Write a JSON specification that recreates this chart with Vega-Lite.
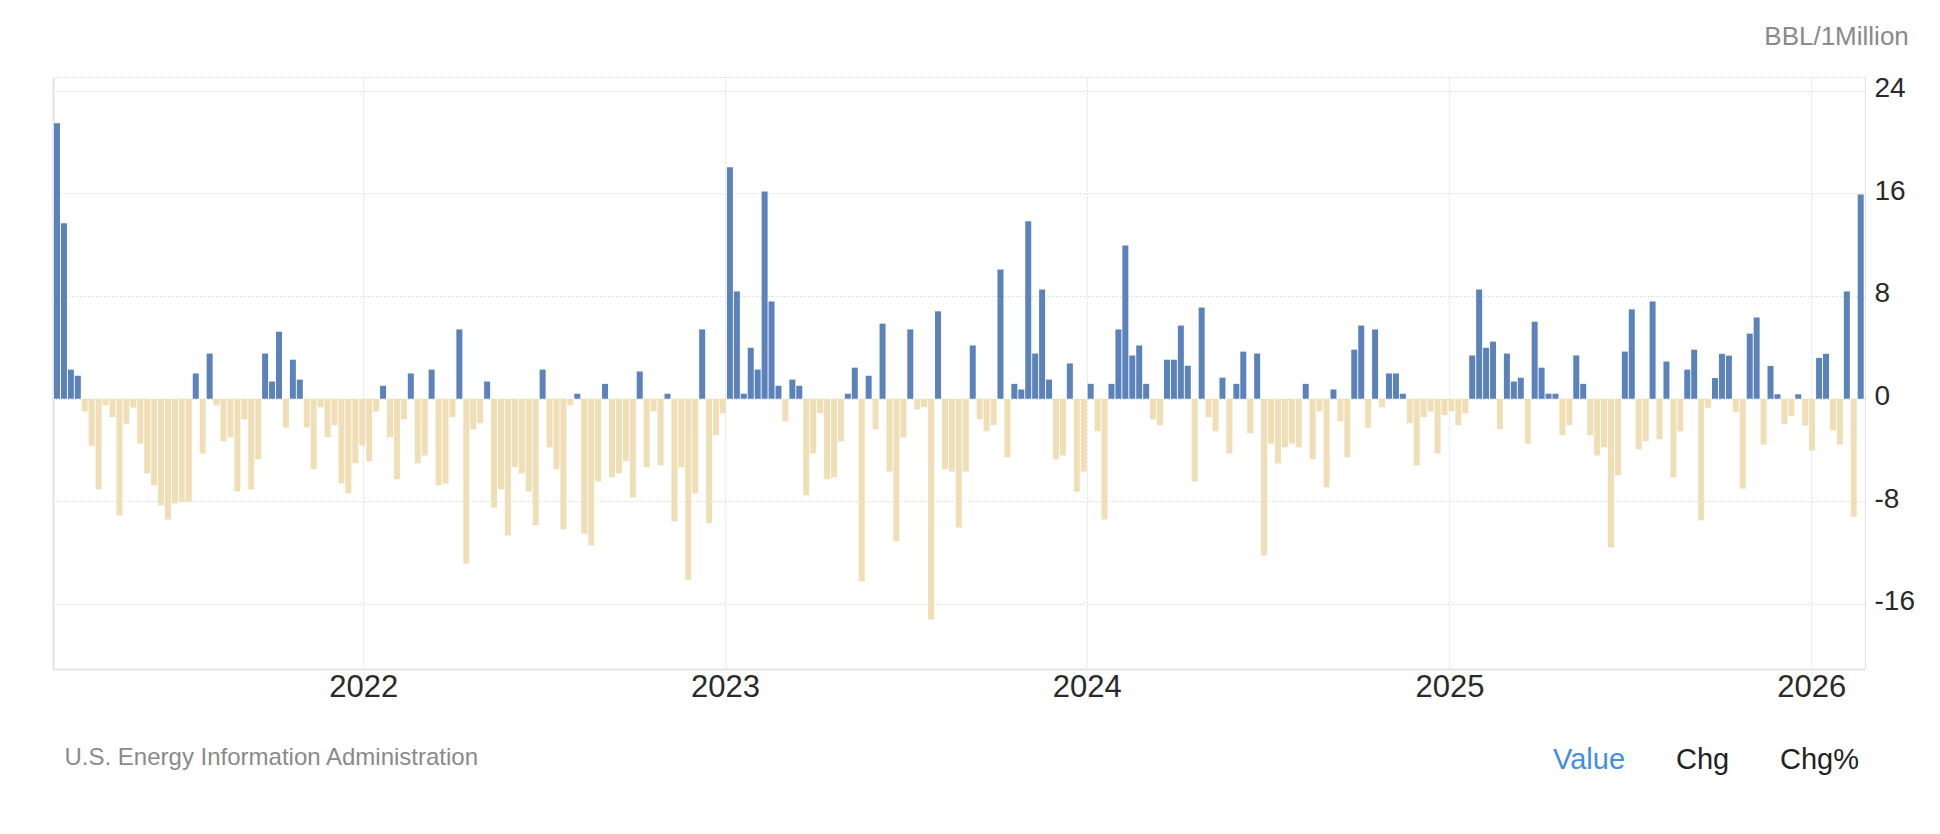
{
"$schema": "https://vega.github.io/schema/vega-lite/v6.json",
"width": 1812, "height": 592,
"autosize": {"type": "none"},
"padding": {"left": 53, "top": 77, "right": 75, "bottom": 165},
"background": "#ffffff",
"config": {"font": "Liberation Sans", "view": {"stroke": null}},
"layer": [
{
"data": {"values": [
{"date":"2021-02-26","value":21.46},{"date":"2021-03-05","value":13.67},{"date":"2021-03-12","value":2.27},{"date":"2021-03-19","value":1.79},{"date":"2021-03-26","value":-0.99},{"date":"2021-04-02","value":-3.67},{"date":"2021-04-09","value":-7.07},{"date":"2021-04-16","value":-0.51},{"date":"2021-04-23","value":-1.43},{"date":"2021-04-30","value":-9.1},
{"date":"2021-05-07","value":-1.94},{"date":"2021-05-14","value":-0.69},{"date":"2021-05-21","value":-3.49},{"date":"2021-05-28","value":-5.82},{"date":"2021-06-04","value":-6.75},{"date":"2021-06-11","value":-8.3},{"date":"2021-06-18","value":-9.4},{"date":"2021-06-25","value":-8.15},{"date":"2021-07-02","value":-8.06},{"date":"2021-07-09","value":-8.03},
{"date":"2021-07-16","value":1.97},{"date":"2021-07-23","value":-4.27},{"date":"2021-07-30","value":3.52},{"date":"2021-08-06","value":-0.51},{"date":"2021-08-13","value":-3.31},{"date":"2021-08-20","value":-3.01},{"date":"2021-08-27","value":-7.22},{"date":"2021-09-03","value":-1.61},{"date":"2021-09-10","value":-7.07},{"date":"2021-09-17","value":-4.72},
{"date":"2021-09-24","value":3.52},{"date":"2021-10-01","value":1.34},{"date":"2021-10-08","value":5.22},{"date":"2021-10-15","value":-2.24},{"date":"2021-10-22","value":3.04},{"date":"2021-10-29","value":1.49},{"date":"2021-11-05","value":-2.24},{"date":"2021-11-12","value":-5.49},{"date":"2021-11-19","value":-0.66},{"date":"2021-11-26","value":-3.01},
{"date":"2021-12-03","value":-2.06},{"date":"2021-12-10","value":-6.6},{"date":"2021-12-17","value":-7.37},{"date":"2021-12-24","value":-5.04},{"date":"2021-12-31","value":-3.64},{"date":"2022-01-07","value":-4.87},{"date":"2022-01-14","value":-0.99},{"date":"2022-01-21","value":1.01},{"date":"2022-01-28","value":-3.01},{"date":"2022-02-04","value":-6.27},
{"date":"2022-02-11","value":-1.61},{"date":"2022-02-18","value":1.97},{"date":"2022-02-25","value":-5.04},{"date":"2022-03-04","value":-4.42},{"date":"2022-03-11","value":2.27},{"date":"2022-03-18","value":-6.75},{"date":"2022-03-25","value":-6.6},{"date":"2022-04-01","value":-1.43},{"date":"2022-04-08","value":5.4},{"date":"2022-04-15","value":-12.84},
{"date":"2022-04-22","value":-2.39},{"date":"2022-04-29","value":-1.91},{"date":"2022-05-06","value":1.34},{"date":"2022-05-13","value":-8.48},{"date":"2022-05-20","value":-7.07},{"date":"2022-05-27","value":-10.66},{"date":"2022-06-03","value":-5.34},{"date":"2022-06-10","value":-5.82},{"date":"2022-06-17","value":-7.22},{"date":"2022-06-24","value":-9.88},
{"date":"2022-07-01","value":2.27},{"date":"2022-07-08","value":-3.79},{"date":"2022-07-15","value":-5.49},{"date":"2022-07-22","value":-10.18},{"date":"2022-07-29","value":-0.51},{"date":"2022-08-05","value":0.39},{"date":"2022-08-12","value":-10.51},{"date":"2022-08-19","value":-11.43},{"date":"2022-08-26","value":-6.45},{"date":"2022-09-02","value":1.16},
{"date":"2022-09-09","value":-6.12},{"date":"2022-09-16","value":-5.82},{"date":"2022-09-23","value":-4.87},{"date":"2022-09-30","value":-7.7},{"date":"2022-10-07","value":2.12},{"date":"2022-10-14","value":-5.34},{"date":"2022-10-21","value":-0.99},{"date":"2022-10-28","value":-5.19},{"date":"2022-11-04","value":0.39},{"date":"2022-11-11","value":-9.55},
{"date":"2022-11-18","value":-5.34},{"date":"2022-11-25","value":-14.09},{"date":"2022-12-02","value":-7.37},{"date":"2022-12-09","value":5.4},{"date":"2022-12-16","value":-9.7},{"date":"2022-12-23","value":-2.84},{"date":"2022-12-30","value":-1.13},{"date":"2023-01-06","value":18.03},{"date":"2023-01-13","value":8.36},{"date":"2023-01-20","value":0.39},
{"date":"2023-01-27","value":3.97},{"date":"2023-02-03","value":2.27},{"date":"2023-02-10","value":16.15},{"date":"2023-02-17","value":7.58},{"date":"2023-02-24","value":1.01},{"date":"2023-03-03","value":-1.76},{"date":"2023-03-10","value":1.49},{"date":"2023-03-17","value":1.01},{"date":"2023-03-24","value":-7.52},{"date":"2023-03-31","value":-4.27},
{"date":"2023-04-07","value":-1.13},{"date":"2023-04-14","value":-6.27},{"date":"2023-04-21","value":-6.12},{"date":"2023-04-28","value":-3.31},{"date":"2023-05-05","value":0.39},{"date":"2023-05-12","value":2.42},{"date":"2023-05-19","value":-14.24},{"date":"2023-05-26","value":1.79},{"date":"2023-06-02","value":-2.39},{"date":"2023-06-09","value":5.85},
{"date":"2023-06-16","value":-5.67},{"date":"2023-06-23","value":-11.1},{"date":"2023-06-30","value":-3.01},{"date":"2023-07-07","value":5.4},{"date":"2023-07-14","value":-0.84},{"date":"2023-07-21","value":-0.66},{"date":"2023-07-28","value":-17.19},{"date":"2023-08-04","value":6.81},{"date":"2023-08-11","value":-5.49},{"date":"2023-08-18","value":-5.67},
{"date":"2023-08-25","value":-10.03},{"date":"2023-09-01","value":-5.67},{"date":"2023-09-08","value":4.15},{"date":"2023-09-15","value":-1.61},{"date":"2023-09-22","value":-2.54},{"date":"2023-09-29","value":-2.06},{"date":"2023-10-06","value":10.06},{"date":"2023-10-13","value":-4.57},{"date":"2023-10-20","value":1.16},{"date":"2023-10-27","value":0.72},
{"date":"2023-11-03","value":13.82},{"date":"2023-11-10","value":3.52},{"date":"2023-11-17","value":8.51},{"date":"2023-11-24","value":1.49},{"date":"2023-12-01","value":-4.72},{"date":"2023-12-08","value":-4.42},{"date":"2023-12-15","value":2.75},{"date":"2023-12-22","value":-7.22},{"date":"2023-12-29","value":-5.67},{"date":"2024-01-05","value":1.16},
{"date":"2024-01-12","value":-2.54},{"date":"2024-01-19","value":-9.4},{"date":"2024-01-26","value":1.16},{"date":"2024-02-02","value":5.4},{"date":"2024-02-09","value":11.94},{"date":"2024-02-16","value":3.37},{"date":"2024-02-23","value":4.15},{"date":"2024-03-01","value":1.16},{"date":"2024-03-08","value":-1.61},{"date":"2024-03-15","value":-2.06},
{"date":"2024-03-22","value":3.04},{"date":"2024-03-29","value":3.04},{"date":"2024-04-05","value":5.7},{"date":"2024-04-12","value":2.57},{"date":"2024-04-19","value":-6.45},{"date":"2024-04-26","value":7.1},{"date":"2024-05-03","value":-1.43},{"date":"2024-05-10","value":-2.54},{"date":"2024-05-17","value":1.64},{"date":"2024-05-24","value":-4.27},
{"date":"2024-05-31","value":1.16},{"date":"2024-06-07","value":3.67},{"date":"2024-06-14","value":-2.69},{"date":"2024-06-21","value":3.52},{"date":"2024-06-28","value":-12.21},{"date":"2024-07-05","value":-3.49},{"date":"2024-07-12","value":-5.04},{"date":"2024-07-19","value":-3.79},{"date":"2024-07-26","value":-3.49},{"date":"2024-08-02","value":-3.79},
{"date":"2024-08-09","value":1.16},{"date":"2024-08-16","value":-4.72},{"date":"2024-08-23","value":-0.99},{"date":"2024-08-30","value":-6.9},{"date":"2024-09-06","value":0.72},{"date":"2024-09-13","value":-1.76},{"date":"2024-09-20","value":-4.57},{"date":"2024-09-27","value":3.82},{"date":"2024-10-04","value":5.7},{"date":"2024-10-11","value":-2.24},
{"date":"2024-10-18","value":5.4},{"date":"2024-10-25","value":-0.66},{"date":"2024-11-01","value":1.97},{"date":"2024-11-08","value":1.97},{"date":"2024-11-15","value":0.39},{"date":"2024-11-22","value":-1.91},{"date":"2024-11-29","value":-5.19},{"date":"2024-12-06","value":-1.43},{"date":"2024-12-13","value":-0.99},{"date":"2024-12-20","value":-4.27},
{"date":"2024-12-27","value":-1.28},{"date":"2025-01-03","value":-0.99},{"date":"2025-01-10","value":-2.06},{"date":"2025-01-17","value":-1.13},{"date":"2025-01-24","value":3.37},{"date":"2025-01-31","value":8.51},{"date":"2025-02-07","value":3.97},{"date":"2025-02-14","value":4.45},{"date":"2025-02-21","value":-2.39},{"date":"2025-02-28","value":3.52},
{"date":"2025-03-07","value":1.34},{"date":"2025-03-14","value":1.64},{"date":"2025-03-21","value":-3.49},{"date":"2025-03-28","value":6.0},{"date":"2025-04-04","value":2.42},{"date":"2025-04-11","value":0.39},{"date":"2025-04-18","value":0.39},{"date":"2025-04-25","value":-2.84},{"date":"2025-05-02","value":-2.06},{"date":"2025-05-09","value":3.37},
{"date":"2025-05-16","value":1.16},{"date":"2025-05-23","value":-2.84},{"date":"2025-05-30","value":-4.42},{"date":"2025-06-06","value":-3.79},{"date":"2025-06-13","value":-11.58},{"date":"2025-06-20","value":-5.97},{"date":"2025-06-27","value":3.67},{"date":"2025-07-04","value":6.96},{"date":"2025-07-11","value":-3.94},{"date":"2025-07-18","value":-3.31},
{"date":"2025-07-25","value":7.58},{"date":"2025-08-01","value":-3.16},{"date":"2025-08-08","value":2.9},{"date":"2025-08-15","value":-6.12},{"date":"2025-08-22","value":-2.54},{"date":"2025-08-29","value":2.27},{"date":"2025-09-05","value":3.82},{"date":"2025-09-12","value":-9.48},{"date":"2025-09-19","value":-0.7},{"date":"2025-09-26","value":1.61},
{"date":"2025-10-03","value":3.5},{"date":"2025-10-10","value":3.36},{"date":"2025-10-17","value":-1.05},{"date":"2025-10-24","value":-7.0},{"date":"2025-10-31","value":5.07},{"date":"2025-11-07","value":6.33},{"date":"2025-11-14","value":-3.57},{"date":"2025-11-21","value":2.55},{"date":"2025-11-28","value":0.35},{"date":"2025-12-05","value":-1.99},
{"date":"2025-12-12","value":-1.36},{"date":"2025-12-19","value":0.35},{"date":"2025-12-26","value":-2.1},{"date":"2026-01-02","value":-4.02},{"date":"2026-01-09","value":3.18},{"date":"2026-01-16","value":3.5},{"date":"2026-01-23","value":-2.45},{"date":"2026-01-30","value":-3.57},{"date":"2026-02-06","value":8.36},{"date":"2026-02-13","value":-9.2},
{"date":"2026-02-20","value":15.9}
]},
"mark": {"type": "bar", "width": 6},
"encoding": {
"x": {"field": "date", "type": "temporal",
 "scale": {"type": "utc", "padding": 0, "nice": false, "domain": [{"year": 2021, "month": 2, "date": 21, "hours": 23, "utc": true}, {"year": 2026, "month": 2, "date": 24, "hours": 8, "utc": true}]},
 "axis": {"format": "%Y", "tickCount": {"interval": "year", "step": 1}, "labelFontSize": 31, "labelColor": "#2a2a2a", "labelPadding": 3.5, "labelBaseline": "top", "labelFlush": false, "labelOverlap": false, "ticks": false, "tickSize": 0, "domain": true, "domainColor": "#e3e3e3", "domainWidth": 2, "grid": true, "gridColor": "#dedede", "gridDash": [2, 2], "gridWidth": 1,
  "title": "U.S. Energy Information Administration", "titleX": 11, "titleY": 95, "titleAlign": "left", "titleAnchor": "start", "titleBaseline": "alphabetic", "titleFontSize": 24, "titleFontWeight": "normal", "titleColor": "#8a8a8a"}},
"y": {"field": "value", "type": "quantitative",
 "scale": {"domain": [-21.05, 25.06], "nice": false, "zero": false},
 "axis": {"orient": "right", "values": [-16, -8, 0, 8, 16, 24, 25.06], "labelExpr": "datum.value > 24.5 ? '' : '' + datum.value", "labelFontSize": 28, "labelColor": "#2a2a2a", "labelPadding": 9, "labelBaseline": "alphabetic", "labelOffset": 5.7, "labelFlush": false, "labelOverlap": false, "ticks": false, "tickSize": 0, "domain": true, "domainColor": "#e3e3e3", "domainWidth": 1, "grid": true, "gridColor": "#dedede", "gridDash": [2, 2], "gridWidth": 1,
  "title": "BBL/1Million", "titleAngle": 0, "titleAlign": "right", "titleBaseline": "alphabetic", "titleX": 43.3, "titleY": -32.7, "titleFontSize": 26, "titleFontWeight": "normal", "titleColor": "#8a8a8a"}},
"color": {"condition": {"test": "datum.value >= 0", "value": "#5b82b9"}, "value": "#f0dfb6"}
}
},
{
"data": {"values": [{"btn": "Value"}, {"btn": "Chg"}, {"btn": "Chg%"}]},
"mark": {"type": "point", "opacity": 0},
"encoding": {
"y": {"field": "v", "type": "quantitative", "scale": {"domain": [-21.05, 25.06], "nice": false, "zero": false},
 "axis": {"orient": "left", "labels": false, "ticks": false, "grid": false, "title": null, "domain": true, "domainColor": "#e3e3e3", "domainWidth": 2}},
"color": {"field": "btn", "type": "nominal", "sort": null,
 "scale": {"domain": ["Value", "Chg", "Chg%"], "range": ["#3f8fe6", "#222222", "#222222"]},
 "legend": {"orient": "none", "legendX": 1471, "legendY": 668, "direction": "horizontal", "title": null, "labelFontSize": 29, "labelColor": {"expr": "datum.label === 'Value' ? '#3f8fe6' : '#222222'"}, "symbolOpacity": 0, "symbolSize": 1, "symbolStrokeWidth": 0, "labelOffset": 0, "columnPadding": 21, "padding": 0, "labelLimit": 0}}
}
}
],
"resolve": {"axis": {"y": "independent"}}
}
